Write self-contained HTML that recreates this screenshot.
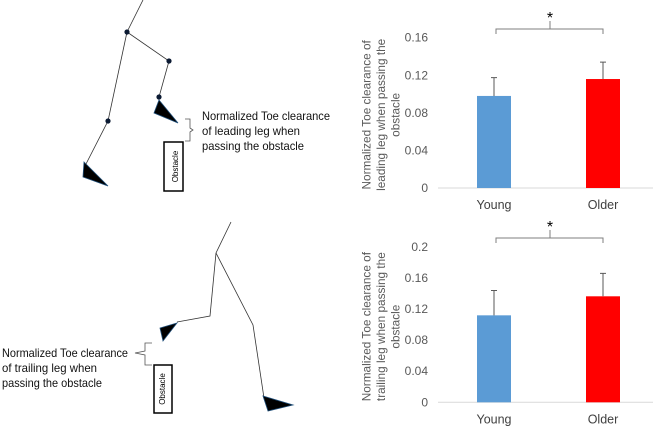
<!DOCTYPE html>
<html><head><meta charset="utf-8"><style>
html,body{margin:0;padding:0;background:#fff;}
svg{display:block;font-family:"Liberation Sans",sans-serif;}
</style></head><body>
<svg id="s" width="660" height="426" viewBox="0 0 660 426">
<g stroke="#333" stroke-width="0.8" fill="none">
<polyline points="143,0 127,32 169,61 159,97"/>
<polyline points="127,32 108,121 86,164"/>
<polygon points="84,162 83,177 108,186" fill="#000" stroke="#1f4e79"/>
<polygon points="159,100 154,113 178,123" fill="#000" stroke="#1f4e79"/>
<g fill="#0b1a33" stroke="none">
<circle cx="127" cy="32" r="2.6"/>
<circle cx="169" cy="61" r="2.6"/>
<circle cx="159" cy="97" r="2.6"/>
<circle cx="108" cy="121" r="2.6"/>
</g>
<polyline points="185,119 190,119 190,128 193,130 190,132 190,141 185,141" stroke="#555"/>
<rect x="164" y="142" width="19" height="49" stroke="#000" stroke-width="1.5"/>
</g>
<text x="176" y="166.5" transform="rotate(-90 176 166.5)" font-size="8" text-anchor="middle" dominant-baseline="middle">Obstacle</text>
<g font-size="12" fill="#111">
<text x="202" y="120" textLength="128" lengthAdjust="spacingAndGlyphs">Normalized Toe clearance</text>
<text x="202" y="135" textLength="98" lengthAdjust="spacingAndGlyphs">of leading leg when</text>
<text x="202" y="150" textLength="102" lengthAdjust="spacingAndGlyphs">passing the obstacle</text>
</g>

<g stroke="#333" stroke-width="0.8" fill="none">
<polyline points="231,222 216,253 210,316 177,322"/>
<polyline points="216,253 253,325 264,398"/>
<polygon points="160,328 163,341 177,323" fill="#000" stroke="#1f4e79"/>
<polygon points="263,396 268,411 293,405" fill="#000" stroke="#1f4e79"/>
<polyline points="152,343 145,343 145,351 135,353 145,355 145,365 152,365" stroke="#555"/>
<rect x="154" y="365" width="18" height="48" stroke="#000" stroke-width="1.5"/>
</g>
<text x="163" y="389" transform="rotate(-90 163 389)" font-size="8" text-anchor="middle" dominant-baseline="middle">Obstacle</text>
<g font-size="12" fill="#111">
<text x="2" y="357" textLength="126" lengthAdjust="spacingAndGlyphs">Normalized Toe clearance</text>
<text x="2" y="372" textLength="95" lengthAdjust="spacingAndGlyphs">of trailing leg when</text>
<text x="2" y="387" textLength="100" lengthAdjust="spacingAndGlyphs">passing the obstacle</text>
</g>
<g id="c1"></g>
<g id="c2"></g>
</svg>
<script>
const categories = ["Young", "Older"];
const leadValues = [0.098, 0.116];
const leadErrors = [0.0195, 0.018];
const leadTicks = ["0", "0.04", "0.08", "0.12", "0.16"];
const trailValues = [0.112, 0.1365];
const trailErrors = [0.032, 0.0295];
const trailTicks = ["0", "0.04", "0.08", "0.12", "0.16", "0.2"];
const colors = ["#5b9bd5", "#ff0000"];
const NS = "http://www.w3.org/2000/svg";
function mk(parent, tag, attrs){const e=document.createElementNS(NS,tag);for(const k in attrs)e.setAttribute(k,attrs[k]);parent.appendChild(e);return e;}
function chart(g, values, errors, ticks, y0, yTop, maxV, titleLines, brY){
  const y = v => y0 - (v/maxV)*(y0-yTop);
  const xs = [494, 603];
  const bw = 34;
  ticks.forEach(t=>{
    const tx = mk(g,'text',{x:428,y:y(parseFloat(t))+4,'text-anchor':'end','font-size':12,fill:'#595959'});
    tx.textContent=t;
    
    
  });
  const ax = mk(g,'line',{x1:438,x2:653,y1:y0,y2:y0,stroke:'#d9d9d9','stroke-width':1});
  
  
  values.forEach((v,i)=>{
    const r = mk(g,'rect',{x:xs[i]-bw/2,y:y(v),width:bw,height:y0-y(v),fill:colors[i]});
    
    
    const e = mk(g,'path',{d:`M${xs[i]} ${y(v)}V${y(v+errors[i])}M${xs[i]-3} ${y(v+errors[i])}H${xs[i]+3}`,stroke:'#595959','stroke-width':1,fill:'none'});
    
    
    const l = mk(g,'text',{x:xs[i],y:y0+21,'text-anchor':'middle','font-size':12.5,fill:'#404040'});
    l.textContent=categories[i];
    
    
  });
  const t = mk(g,'text',{transform:`translate(381 ${(y0+yTop)/2+2}) rotate(-90)`,'text-anchor':'middle','font-size':11.8,fill:'#595959'});
  
  
  titleLines.forEach((s,i)=>{const ts=mk(t,'tspan',{x:0,y:(i-1)*14.5+4});ts.textContent=s;});
  const b = mk(g,'path',{d:`M496 ${brY+5}V${brY}H550V${brY-8}M550 ${brY}H603V${brY+5}`,stroke:'#7f7f7f','stroke-width':1,fill:'none'});
  
  
  const st = mk(g,'text',{x:550,y:brY-6,'text-anchor':'middle','font-size':16,fill:'#000'});
  st.textContent='*';
  
  
}
chart(document.getElementById('c1'), leadValues, leadErrors, leadTicks, 188, 37.7, 0.16,
  ["Normalized Toe clearance of","leading leg when passing the","obstacle"], 29);
chart(document.getElementById('c2'), trailValues, trailErrors, trailTicks, 402.3, 247, 0.2,
  ["Normalized Toe clearance of","trailing leg when passing the","obstacle"], 238);
</script>
</body></html>
